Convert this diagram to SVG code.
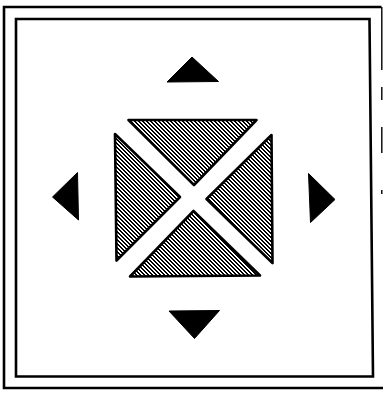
<svg xmlns="http://www.w3.org/2000/svg" width="383" height="394" viewBox="0 0 383 394">
<style>
.frame{fill:none;stroke:#000;stroke-width:2.6;stroke-linejoin:miter}
.frag{fill:none;stroke:#000;stroke-width:1.4}
.arrow{fill:#000;stroke:#000;stroke-width:1;stroke-linejoin:round}
.hatch{fill:url(#h);stroke:#000;stroke-width:2.6;stroke-linejoin:round}
</style>
<defs>
<pattern id="h" patternUnits="userSpaceOnUse" x="0" y="0" width="4" height="4">
<rect width="4" height="4" fill="#fff"/>
<polygon points="0,0 2,0 4,2 4,4" fill="#000" shape-rendering="crispEdges"/>
<polygon points="0,2 2,4 0,4" fill="#000" shape-rendering="crispEdges"/>
</pattern>
</defs>
<rect width="383" height="394" fill="#fff"/>
<g id="frame">
<path class="frame" d="M381.5,7 L4,7 L4,388 L383,388"/>
<path class="frag" d="M381.8,7 L381.8,70 M381.8,87 L381.8,100 M381.8,127 L381.8,153 M381.8,190 L381.8,194"/>
<path class="frame" d="M16,19 L369.5,19 L373,376.5 L16,376.5 Z"/>
</g>
<g id="arrow-up"><polygon class="arrow" points="192,57 167,82 218.5,81.5"/></g>
<g id="arrow-down"><polygon class="arrow" points="169,311 219.5,310.5 194.5,338.5"/></g>
<g id="arrow-left"><polygon class="arrow" points="52.5,197 77.5,172.5 78.5,220"/></g>
<g id="arrow-right"><polygon class="arrow" points="308.5,173.5 335,199.5 310.5,222.5"/></g>
<g id="tri-top"><polygon class="hatch" points="128.5,120 256.5,120 194,185"/></g>
<g id="tri-left"><polygon class="hatch" points="115,134 180,197 116.5,260.5"/></g>
<g id="tri-right"><polygon class="hatch" points="271.5,135 206.5,199 272.5,263"/></g>
<g id="tri-bottom"><polygon class="hatch" points="193.5,211 260,275.5 130,276.5"/></g>
</svg>
